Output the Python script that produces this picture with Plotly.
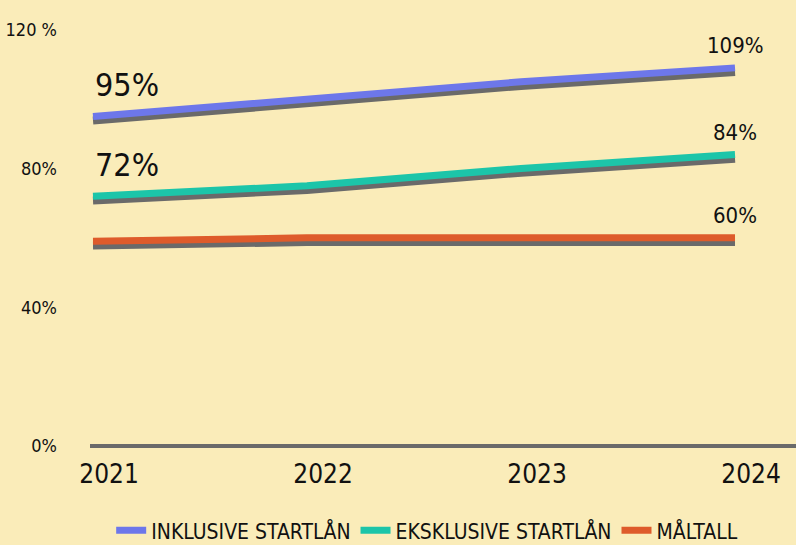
import plotly.graph_objects as go

years = [2021, 2022, 2023, 2024]
inklusive = [95, 100, 105, 109]
eksklusive = [72, 75, 80, 84]
maltall = [59, 60, 60, 60]
series_names = ["INKLUSIVE STARTLÅN", "EKSKLUSIVE STARTLÅN", "MÅLTALL"]
y_tick_vals = [0, 40, 80, 120]
y_tick_text = ["0%", "40%", "80%", "120 %"]

BG = "#FAECB9"
GRAY = "#6A6A6A"
COLORS = ["#6D77EA", "#1CC5A9", "#DE5B2B"]
FONT = "DejaVu Sans Condensed, Liberation Sans Narrow, Roboto, sans-serif"
SHADOW = 1.2  # shadow offset in data units

fig = go.Figure()
for name, vals, col in zip(series_names, [inklusive, eksklusive, maltall], COLORS):
    fig.add_trace(go.Scatter(
        x=years, y=[v - SHADOW for v in vals], mode="lines",
        line=dict(color=GRAY, width=8), showlegend=False, hoverinfo="skip"))
    fig.add_trace(go.Scatter(
        x=years, y=vals, mode="lines", name=name,
        line=dict(color=col, width=7)))

ann = []
# start labels
for vals in [inklusive, eksklusive]:
    ann.append(dict(x=years[0], y=vals[0], text=f"{vals[0]}%", showarrow=False,
                    xanchor="left", yanchor="bottom", xshift=0, yshift=10,
                    font=dict(size=32, family=FONT, color="#111")))
# end labels
for vals in [inklusive, eksklusive, maltall]:
    ann.append(dict(x=years[-1], y=vals[-1], text=f"{vals[-1]}%", showarrow=False,
                    xanchor="center", yanchor="bottom", xshift=0, yshift=8,
                    font=dict(size=22, family=FONT, color="#111")))

fig.update_layout(
    width=796, height=545,
    paper_bgcolor=BG, plot_bgcolor=BG,
    margin=dict(l=90, r=0, t=20, b=95, autoexpand=False),
    font=dict(family=FONT, color="#111"),
    annotations=ann,
    showlegend=True,
    legend=dict(orientation="h", x=0.03, xanchor="left", y=-0.14, yanchor="top",
                font=dict(size=21, family=FONT, color="#111"),
                bgcolor="rgba(0,0,0,0)"),
    xaxis=dict(range=[2020.986, 2024.285], tickvals=years, ticktext=[str(y) for y in years],
               showgrid=False, zeroline=False, showline=False,
               tickfont=dict(size=26, family=FONT, color="#111"),
               ticks="", ticklabelshift=16, ticklabelstandoff=6),
    yaxis=dict(range=[-1.15, 122.8], tickvals=y_tick_vals, ticktext=y_tick_text,
               showgrid=False, zeroline=True, zerolinecolor=GRAY, zerolinewidth=4,
               showline=False, ticks="", ticklabelstandoff=32,
               tickfont=dict(size=18, family=FONT, color="#111")),
)

fig.write_html("out.html", config={"displayModeBar": False},
               post_script="document.body.style.margin='0';")
